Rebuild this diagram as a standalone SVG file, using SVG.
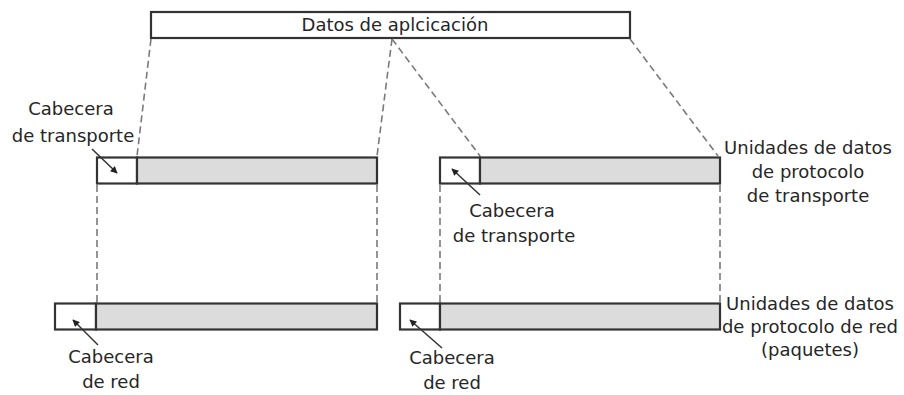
<svg xmlns="http://www.w3.org/2000/svg" width="904" height="395" viewBox="0 0 904 395">
<style>
text{font-family:"DejaVu Sans","Liberation Sans",sans-serif;font-size:18px;fill:#262626;text-anchor:middle}
.box{fill:#fff;stroke:#333;stroke-width:2.2}
.pay{fill:#dcdcdc;stroke:#333;stroke-width:2.2}
.dash{stroke:#7a7a7a;stroke-width:1.6;stroke-dasharray:7 4;fill:none}
.arr{stroke:#333;stroke-width:1.5;fill:none;marker-end:url(#ah)}
</style>
<defs>
<marker id="ah" viewBox="0 0 10 10" refX="9" refY="5" markerWidth="8" markerHeight="7" orient="auto" markerUnits="userSpaceOnUse">
<path d="M0,0 L10,5 L0,10 z" fill="#222"/>
</marker>
</defs>
<rect width="904" height="395" fill="#fff"/>
<g id="app">
<rect class="box" x="151" y="12" width="479" height="26"/>
<text x="395" y="31">Datos de aplcicación</text>
</g>
<g id="tpdu1">
<rect class="box" x="97" y="157.5" width="40" height="26"/>
<rect class="pay" x="137" y="157.5" width="240" height="26"/>
</g>
<g id="tpdu2">
<rect class="box" x="440" y="157.5" width="40" height="26"/>
<rect class="pay" x="480" y="157.5" width="240" height="26"/>
</g>
<g id="pkt1">
<rect class="box" x="55" y="303.5" width="41" height="26"/>
<rect class="pay" x="96" y="303.5" width="281" height="26"/>
</g>
<g id="pkt2">
<rect class="box" x="400" y="303.5" width="40" height="26"/>
<rect class="pay" x="440" y="303.5" width="280" height="26"/>
</g>
<g id="connectors">
<line class="dash" x1="151" y1="39" x2="137" y2="156"/>
<line class="dash" x1="392" y1="39" x2="377" y2="156"/>
<line class="dash" x1="392" y1="39" x2="480" y2="156"/>
<line class="dash" x1="630" y1="39" x2="718" y2="156"/>
<line class="dash" x1="97" y1="185" x2="97" y2="302"/>
<line class="dash" x1="377" y1="185" x2="377" y2="302"/>
<line class="dash" x1="440" y1="185" x2="440" y2="302"/>
<line class="dash" x1="720" y1="185" x2="720" y2="302"/>
<line class="arr" x1="92" y1="149" x2="117" y2="173"/>
<line class="arr" x1="480" y1="195" x2="452" y2="169"/>
<line class="arr" x1="98" y1="345" x2="73" y2="320"/>
<line class="arr" x1="442" y1="348" x2="410" y2="320"/>
</g>
<g id="lbl-th1">
<text x="71" y="115">Cabecera</text>
<text x="73" y="142">de transporte</text>
</g>
<g id="lbl-th2">
<text x="512" y="217">Cabecera</text>
<text x="514" y="242">de transporte</text>
</g>
<g id="lbl-tpdu">
<text x="808" y="154">Unidades de datos</text>
<text x="808" y="178">de protocolo</text>
<text x="808" y="202">de transporte</text>
</g>
<g id="lbl-nh1">
<text x="111" y="363">Cabecera</text>
<text x="111" y="388">de red</text>
</g>
<g id="lbl-nh2">
<text x="452" y="364">Cabecera</text>
<text x="452" y="389">de red</text>
</g>
<g id="lbl-pkt">
<text x="810" y="310">Unidades de datos</text>
<text x="810" y="333">de protocolo de red</text>
<text x="810" y="356">(paquetes)</text>
</g>
</svg>
